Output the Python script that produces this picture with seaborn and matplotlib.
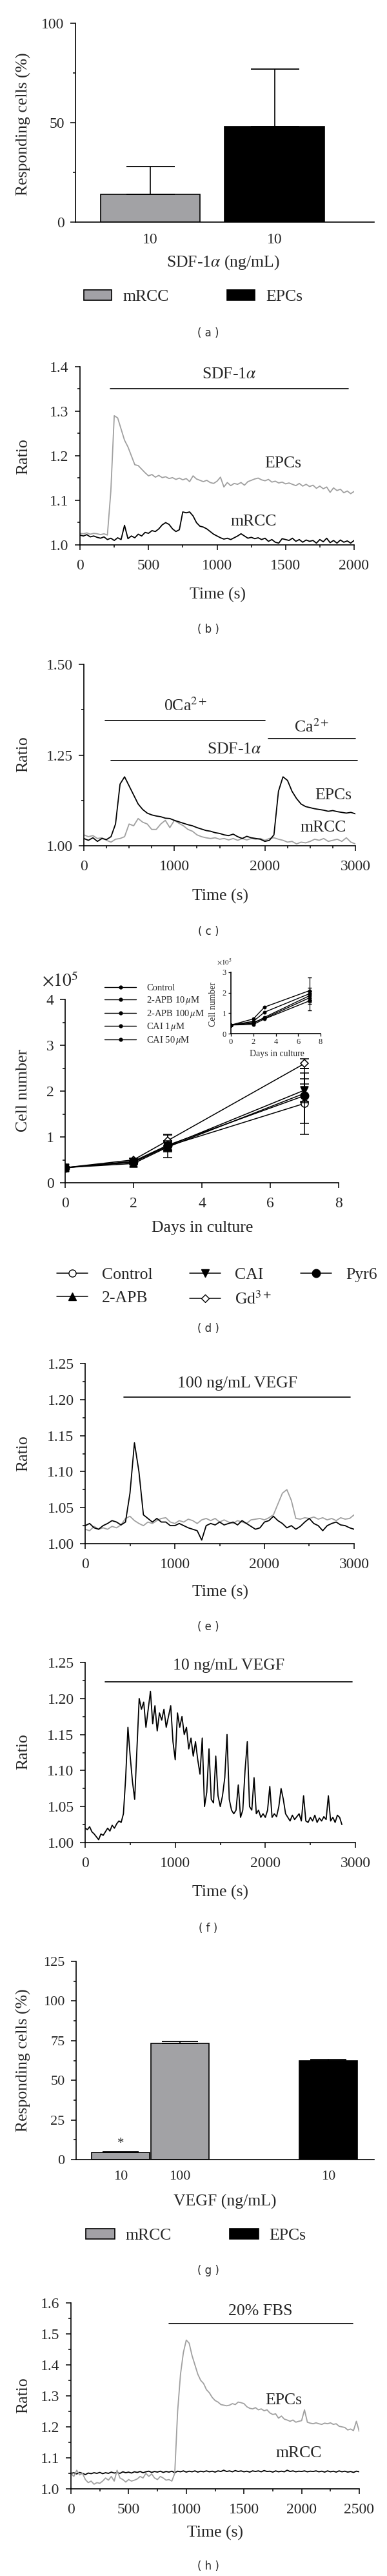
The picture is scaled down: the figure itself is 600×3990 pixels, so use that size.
import numpy as np
import matplotlib
matplotlib.use("Agg")
import matplotlib.pyplot as plt
import seaborn as sns
from matplotlib.lines import Line2D
from matplotlib.patches import Patch
from matplotlib.ticker import MultipleLocator, FormatStrFormatter

# ---------------- data ----------------
# (a) SDF-1a responding cells
sdf_groups = ["mRCC", "EPCs"]
sdf_resp = [14, 48]
sdf_err = [14, 29]

# (b) SDF-1a traces, sampled every 25 s
b_step = 25
b_epcs = [1.026, 1.025, 1.027, 1.024, 1.026, 1.025, 1.023, 1.025, 1.022, 1.12, 1.29, 1.285, 1.26, 1.235,
          1.22, 1.2, 1.18, 1.178, 1.17, 1.162, 1.155, 1.158, 1.152, 1.156, 1.151, 1.153, 1.149, 1.151,
          1.147, 1.15, 1.146, 1.149, 1.142, 1.155, 1.148, 1.145, 1.142, 1.145, 1.14, 1.138, 1.143, 1.152,
          1.13, 1.14, 1.133, 1.138, 1.136, 1.14, 1.134, 1.142, 1.145, 1.148, 1.15, 1.146, 1.144, 1.147,
          1.141, 1.143, 1.139, 1.141, 1.137, 1.139, 1.136, 1.133, 1.138, 1.132, 1.136, 1.131, 1.134,
          1.127, 1.132, 1.126, 1.13, 1.118, 1.128, 1.122, 1.125, 1.117, 1.121, 1.115, 1.12]
b_mrcc = [1.022, 1.02, 1.023, 1.018, 1.02, 1.017, 1.015, 1.018, 1.012, 1.015, 1.01, 1.016, 1.012, 1.044,
          1.014, 1.02, 1.016, 1.024, 1.02, 1.028, 1.026, 1.032, 1.03, 1.036, 1.045, 1.05, 1.046, 1.036,
          1.03, 1.034, 1.074, 1.072, 1.074, 1.065, 1.05, 1.042, 1.04, 1.036, 1.03, 1.024, 1.02, 1.016,
          1.013, 1.015, 1.012, 1.016, 1.02, 1.025, 1.02, 1.015, 1.017, 1.014, 1.016, 1.012, 1.015, 1.008,
          1.012, 1.006, 1.004, 1.014, 1.012, 1.01, 1.015, 1.008, 1.012, 1.006, 1.011, 1.008, 1.01, 1.004,
          1.012, 1.007, 1.015, 1.005, 1.01, 1.004, 1.011, 1.006, 1.009, 1.004, 1.01]
b_stim = [222, 1957]

# (c) 0Ca / Ca re-addition traces, every 50 s
c_step = 50
c_epcs = [1.02, 1.015, 1.022, 1.012, 1.02, 1.017, 1.025, 1.06, 1.17, 1.19, 1.165, 1.14, 1.115, 1.1,
          1.09, 1.085, 1.082, 1.08, 1.076, 1.075, 1.07, 1.066, 1.062, 1.058, 1.055, 1.05, 1.046, 1.042,
          1.04, 1.036, 1.034, 1.03, 1.028, 1.032, 1.025, 1.02, 1.026, 1.022, 1.02, 1.018, 1.012, 1.015,
          1.03, 1.15, 1.19, 1.18, 1.15, 1.13, 1.115, 1.108, 1.105, 1.102, 1.1, 1.098, 1.095, 1.097,
          1.094, 1.092, 1.09, 1.092, 1.088]
c_mrcc = [1.03, 1.025, 1.028, 1.02, 1.022, 1.015, 1.01, 1.018, 1.02, 1.025, 1.06, 1.055, 1.075, 1.065,
          1.06, 1.045, 1.045, 1.06, 1.07, 1.05, 1.07, 1.062, 1.055, 1.045, 1.04, 1.03, 1.025, 1.022,
          1.02, 1.022, 1.018, 1.02, 1.016, 1.02, 1.015, 1.02, 1.016, 1.02, 1.018, 1.02, 1.015, 1.02,
          1.022, 1.018, 1.015, 1.01, 1.012, 1.005, 1.01, 1.008, 1.012, 1.018, 1.015, 1.02, 1.012, 1.015,
          1.018, 1.012, 1.022, 1.01, 1.005]
c_zero_ca = [237, 2003]
c_ca = [2035, 3000]
c_sdf = [302, 3020]

# (d) proliferation (x10^5 cells)
days = [0, 2, 3, 7]
d_series = ["Control", "2-APB", "CAI", r"Gd$^{3+}$", "Pyr6"]
d_control = [0.33, 0.45, 0.80, 1.73]
d_apb = [0.33, 0.42, 0.78, 1.95]
d_cai = [0.33, 0.45, 0.80, 2.02]
d_gd = [0.33, 0.50, 0.92, 2.60]
d_pyr6 = [0.33, 0.47, 0.82, 1.90]
d_control_err = [0.02, 0.03, 0.25, 0.67]
d_apb_err = [0.02, 0.03, 0.1, 0.2]
d_cai_err = [0.02, 0.03, 0.1, 0.25]
d_gd_err = [0.02, 0.03, 0.12, 0.11]
d_pyr6_err = [0.02, 0.03, 0.1, 0.6]

# (d) inset
in_series = [r"Control", r"2-APB 10$\,\mu$M", r"2-APB 100$\,\mu$M", r"CAI 1$\,\mu$M", r"CAI 50$\,\mu$M"]
in_control = [0.42, 0.72, 1.30, 2.10]
in_apb10 = [0.42, 0.60, 1.05, 1.95]
in_apb100 = [0.42, 0.50, 0.80, 1.85]
in_cai1 = [0.42, 0.55, 0.75, 1.75]
in_cai50 = [0.42, 0.45, 0.72, 1.60]
in_err = [0.65, 0.3, 0.25, 0.2, 0.45]

# (e) 100 ng/mL VEGF, every 50 s
e_step = 50
e_black = [1.025, 1.028, 1.022, 1.02, 1.025, 1.028, 1.032, 1.03, 1.026, 1.03, 1.07, 1.14, 1.1, 1.04,
           1.035, 1.03, 1.035, 1.03, 1.03, 1.025, 1.025, 1.028, 1.025, 1.022, 1.02, 1.018, 1.005, 1.025,
           1.028, 1.026, 1.03, 1.026, 1.028, 1.03, 1.026, 1.032, 1.028, 1.024, 1.02, 1.022, 1.03, 1.032,
           1.038, 1.032, 1.028, 1.022, 1.025, 1.02, 1.024, 1.03, 1.035, 1.028, 1.025, 1.018, 1.025,
           1.028, 1.03, 1.026, 1.025, 1.022, 1.02]
e_gray = [1.02, 1.018, 1.024, 1.02, 1.022, 1.02, 1.024, 1.022, 1.026, 1.035, 1.038, 1.032, 1.028, 1.025,
          1.03, 1.028, 1.032, 1.035, 1.036, 1.03, 1.028, 1.032, 1.03, 1.034, 1.032, 1.028, 1.033, 1.035,
          1.032, 1.035, 1.03, 1.033, 1.03, 1.028, 1.032, 1.03, 1.028, 1.033, 1.034, 1.035, 1.033, 1.036,
          1.04, 1.055, 1.07, 1.075, 1.06, 1.035, 1.034, 1.036, 1.035, 1.037, 1.034, 1.036, 1.033, 1.035,
          1.032, 1.036, 1.034, 1.035, 1.04]
e_stim = [430, 2959]

# (f) 10 ng/mL VEGF, every 25 s
f_step = 25
f_trace = [1.02, 1.018, 1.022, 1.015, 1.012, 1.008, 1.004, 1.012, 1.01, 1.015, 1.02, 1.016, 1.024, 1.02,
           1.026, 1.03, 1.028, 1.04, 1.09, 1.16, 1.12, 1.085, 1.06, 1.13, 1.2, 1.185, 1.195, 1.16, 1.185,
           1.21, 1.165, 1.19, 1.155, 1.18, 1.17, 1.185, 1.16, 1.175, 1.19, 1.14, 1.115, 1.18, 1.16, 1.175,
           1.15, 1.16, 1.13, 1.145, 1.12, 1.14, 1.115, 1.095, 1.145, 1.05, 1.07, 1.13, 1.06, 1.055, 1.12,
           1.065, 1.05, 1.065, 1.09, 1.15, 1.06, 1.045, 1.04, 1.045, 1.08, 1.035, 1.045, 1.1, 1.14, 1.05,
           1.045, 1.09, 1.04, 1.045, 1.035, 1.04, 1.035, 1.045, 1.078, 1.035, 1.04, 1.036, 1.05, 1.075,
           1.06, 1.04, 1.035, 1.03, 1.038, 1.032, 1.036, 1.04, 1.03, 1.065, 1.03, 1.028, 1.035, 1.03,
           1.038, 1.028, 1.034, 1.03, 1.036, 1.032, 1.065, 1.03, 1.035, 1.028, 1.038, 1.035, 1.025]
f_stim = [222, 2967]

# (g) VEGF responding cells
vegf_pos = [0, 1, 3.5]
vegf_labels = ["10", "100", "10"]
vegf_cell = ["mRCC", "mRCC", "EPCs"]
vegf_resp = [4.5, 73.3, 62.5]
vegf_err = [0.2, 1.2, 0.7]

# (h) 20% FBS, every 25 s
h_step = 25
h_epcs = [1.05, 1.04, 1.06, 1.045, 1.05, 1.03, 1.02, 1.025, 1.015, 1.02, 1.018, 1.025, 1.035, 1.028,
          1.04, 1.025, 1.06, 1.035, 1.03, 1.022, 1.03, 1.025, 1.028, 1.032, 1.04, 1.035, 1.05, 1.04,
          1.048, 1.035, 1.03, 1.04, 1.035, 1.028, 1.03, 1.025, 1.05, 1.25, 1.37, 1.44, 1.48, 1.47, 1.43,
          1.4, 1.37, 1.35, 1.34, 1.32, 1.31, 1.295, 1.285, 1.28, 1.272, 1.27, 1.268, 1.27, 1.275, 1.272,
          1.28, 1.278, 1.275, 1.265, 1.26, 1.258, 1.262, 1.255, 1.258, 1.252, 1.255, 1.245, 1.24, 1.242,
          1.228, 1.235, 1.225, 1.222, 1.218, 1.222, 1.215, 1.218, 1.22, 1.255, 1.215, 1.212, 1.21, 1.213,
          1.21, 1.208, 1.212, 1.21, 1.213, 1.208, 1.21, 1.202, 1.2, 1.198, 1.19, 1.193, 1.188, 1.218, 1.185]
h_mrcc = [1.05, 1.052, 1.048, 1.053, 1.05, 1.046, 1.051, 1.049, 1.052, 1.05, 1.053, 1.049, 1.052, 1.05,
          1.054, 1.051, 1.053, 1.05, 1.055, 1.052, 1.054, 1.051, 1.055, 1.053, 1.056, 1.052, 1.055, 1.057,
          1.053, 1.056, 1.054, 1.057, 1.053, 1.056, 1.054, 1.057, 1.052, 1.057, 1.055, 1.058, 1.054,
          1.057, 1.055, 1.058, 1.054, 1.057, 1.055, 1.058, 1.055, 1.057, 1.054, 1.058, 1.056, 1.06, 1.056,
          1.058, 1.055, 1.059, 1.056, 1.058, 1.055, 1.057, 1.054, 1.058, 1.056, 1.058, 1.055, 1.059,
          1.056, 1.057, 1.054, 1.058, 1.055, 1.057, 1.055, 1.06, 1.056, 1.058, 1.055, 1.057, 1.056,
          1.058, 1.055, 1.057, 1.056, 1.058, 1.055, 1.057, 1.054, 1.058, 1.055, 1.057, 1.054, 1.058,
          1.055, 1.057, 1.054, 1.056, 1.053, 1.057, 1.055]
h_stim = [848, 2442]

# ---------------- style ----------------
sns.set_theme(style="ticks")
plt.rcParams['font.family'] = ['Liberation Serif', 'DejaVu Serif']
plt.rcParams['mathtext.fontset'] = 'stix'
plt.rcParams['axes.linewidth'] = 1.2
plt.rcParams['axes.edgecolor'] = 'black'

GRAY = "#a0a0a0"
BARGRAY = "#a2a1a6"
TICK = 17
LAB = 18.5
ANN = 18.5
W, H = 600, 3990
fig = plt.figure(figsize=(6, 39.9), dpi=100)


def box(l, t, r, b):
    return fig.add_axes([l / W, 1 - b / H, (r - l) / W, (b - t) / H])


def style(ax, xmaj=None, xmin=None, ymaj=None, ymin=None, size=TICK, xpad=10, ypad=7):
    if xmaj:
        ax.xaxis.set_major_locator(MultipleLocator(xmaj))
    if xmin:
        ax.xaxis.set_minor_locator(MultipleLocator(xmin))
    if ymaj:
        ax.yaxis.set_major_locator(MultipleLocator(ymaj))
    if ymin:
        ax.yaxis.set_minor_locator(MultipleLocator(ymin))
    ax.tick_params(which='major', direction='out', length=5.5, width=1.1, labelsize=size, color='black')
    ax.tick_params(which='minor', direction='out', length=3, width=1.1, color='black')
    ax.tick_params(axis='x', pad=xpad)
    ax.tick_params(axis='y', pad=ypad)
    sns.despine(ax=ax)


def labels(ax, xl, xpos, yl, ypos, size=LAB):
    ax.set_xlabel(xl, fontsize=size)
    ax.xaxis.set_label_coords(xpos[0] / W, 1 - xpos[1] / H, transform=fig.transFigure)
    ax.xaxis.label.set_va('center')
    ax.set_ylabel(yl, fontsize=size)
    ax.yaxis.set_label_coords(ypos[0] / W, 1 - ypos[1] / H, transform=fig.transFigure)
    ax.yaxis.label.set_va('center')


def panel(tag, y):
    fig.text(323 / W, 1 - y / H, "( %s )" % tag, family='DejaVu Sans', fontsize=12,
             ha='center', va='center')


def bar_legend(x, y, hl, tp, cs):
    handles = [Patch(facecolor=BARGRAY, edgecolor='black', linewidth=1.2),
               Patch(facecolor='black', edgecolor='black', linewidth=1.2)]
    fig.legend(handles, ["mRCC", "EPCs"], loc='center left', bbox_to_anchor=(x / W, 1 - y / H),
               ncol=2, frameon=False, fontsize=LAB, handlelength=hl, handleheight=0.6,
               handletextpad=tp, columnspacing=cs)


def trace(ax, step, vals, color):
    t = np.arange(len(vals)) * step
    sns.lineplot(x=t, y=vals, ax=ax, color=color, linewidth=1.3, errorbar=None)


def stim(ax, span, y, text, ty):
    ax.plot(span, [y, y], color='black', linewidth=1.2, clip_on=False)
    ax.text(sum(span) / 2, ty, text, ha='center', va='center', fontsize=ANN)


def note(ax, x, y, text):
    ax.text(x, y, text, ha='center', va='center', fontsize=ANN)


# ---------------- (a) ----------------
ax = box(117, 36, 580, 344)
sns.barplot(x=sdf_groups, y=sdf_resp, hue=sdf_groups, palette=[BARGRAY, 'black'], width=0.8,
            edgecolor='black', linewidth=1.2, legend=False, ax=ax)
ax.errorbar([0, 1], sdf_resp, yerr=[[0, 0], sdf_err], fmt='none', ecolor='black', elinewidth=1.2,
            capsize=27, capthick=1.3)
ax.set_xlim(-0.60, 1.80)
ax.set_ylim(0, 100)
ax.set_xticks([0, 1])
ax.set_xticklabels(["10", "10"])
style(ax, ymaj=50, ymin=25, xpad=12)
ax.tick_params(axis='x', length=0)
labels(ax, r"SDF-1$\alpha$ (ng/mL)", (346, 407), "Responding cells (%)", (36, 192))
bar_legend(107, 460, 1.68, 0.68, 3.5)
panel("a", 516)

# ---------------- (b) ----------------
ax = box(124, 568, 549, 844)
trace(ax, b_step, b_epcs, GRAY)
trace(ax, b_step, b_mrcc, 'black')
ax.set_xlim(0, 2000)
ax.set_ylim(1.0, 1.4)
style(ax, xmaj=500, xmin=250, ymaj=0.1, ymin=0.05)
ax.yaxis.set_major_formatter(FormatStrFormatter('%.1f'))
stim(ax, b_stim, 1.35, r"SDF-1$\alpha$", 1.382)
note(ax, 1481, 1.182, "EPCs")
note(ax, 1265, 1.052, "mRCC")
labels(ax, "Time (s)", (337, 921), "Ratio", (36, 707))
panel("b", 975)

# ---------------- (c) ----------------
ax = box(130, 1029, 551, 1310)
trace(ax, c_step, c_mrcc, GRAY)
trace(ax, c_step, c_epcs, 'black')
ax.set_xlim(0, 3000)
ax.set_ylim(1.0, 1.5)
style(ax, xmaj=1000, xmin=250, ymaj=0.25, ymin=0.125)
ax.yaxis.set_major_formatter(FormatStrFormatter('%.2f'))
stim(ax, c_zero_ca, 1.346, r"0Ca$^{2+}$", 1.386)
stim(ax, c_ca, 1.295, r"Ca$^{2+}$", 1.327)
stim(ax, c_sdf, 1.234, r"SDF-1$\alpha$", 1.266)
note(ax, 2755, 1.139, "EPCs")
note(ax, 2648, 1.049, "mRCC")
labels(ax, "Time (s)", (341, 1388), "Ratio", (36, 1168))
panel("c", 1443)

# ---------------- (d) main ----------------
ax = box(101, 1548, 525, 1832)
d_vals = [d_control, d_apb, d_cai, d_gd, d_pyr6]
d_errs = [d_control_err, d_apb_err, d_cai_err, d_gd_err, d_pyr6_err]
d_mark = [('o', 'white', 8), ('^', 'black', 8), ('v', 'black', 8), ('D', 'white', 6), ('o', 'black', 9)]
for vals, errs, (m, fc, ms) in zip(d_vals, d_errs, d_mark):
    ax.errorbar(days, vals, yerr=errs, fmt='none', ecolor='black', elinewidth=1.1, capsize=5, capthick=1.1)
    sns.lineplot(x=days, y=vals, ax=ax, color='black', linewidth=1.1, marker=m, markersize=ms,
                 markerfacecolor=fc, markeredgecolor='black', markeredgewidth=1.1, errorbar=None)
ax.set_xlim(0, 8)
ax.set_ylim(0, 4)
style(ax, xmaj=2, ymaj=1, ymin=0.5)
ax.text(93 / W, 1 - 1520 / H, r"$\times10^5$", transform=fig.transFigure, ha='center', va='center',
        fontsize=20)
labels(ax, "Days in culture", (314, 1902), "Cell number", (36, 1689))
handles = [Line2D([], [], color='black', lw=1.1, marker=m, markersize=ms, markerfacecolor=fc,
                  markeredgecolor='black') for (m, fc, ms) in d_mark]
# one legend per column so each column sits where it does in the figure
for idx, x0 in [([0, 1], 65), ([2, 3], 271), ([4], 443)]:
    fig.legend([handles[i] for i in idx], [d_series[i] for i in idx], loc='upper left',
               bbox_to_anchor=(x0 / W, 1 - 1940 / H), ncol=1, frameon=False, fontsize=LAB,
               handlelength=1.88, handletextpad=0.84, labelspacing=0.5)
panel("d", 2058)

# ---------------- (d) inset ----------------
ax = box(358, 1506, 497, 1601)
for vals, err in zip([in_control, in_apb10, in_apb100, in_cai1, in_cai50], in_err):
    ax.errorbar(days[-1], vals[-1], yerr=err, fmt='none', ecolor='black', elinewidth=0.9, capsize=2.5)
    sns.lineplot(x=days, y=vals, ax=ax, color='black', linewidth=1.0, marker='o', markersize=3.5,
                 markeredgecolor='black', errorbar=None)
ax.set_xlim(0, 8)
ax.set_ylim(0, 3)
style(ax, xmaj=2, ymaj=1, size=9, xpad=2, ypad=2)
ax.tick_params(which='major', length=3, width=0.9)
ax.set_xlabel("Days in culture", fontsize=10)
ax.xaxis.set_label_coords(429 / W, 1 - 1632 / H, transform=fig.transFigure)
ax.xaxis.label.set_va('center')
ax.set_ylabel("Cell number", fontsize=10)
ax.yaxis.set_label_coords(331 / W, 1 - 1556 / H, transform=fig.transFigure)
ax.yaxis.label.set_va('center')
ax.text(348 / W, 1 - 1490 / H, r"$\times10^5$", transform=fig.transFigure, ha='center', va='center',
        fontsize=8)
in_handles = [Line2D([], [], color='black', lw=1.0, marker='o', markersize=3.5) for _ in in_series]
fig.legend(in_handles, in_series, loc='upper left', bbox_to_anchor=(149 / W, 1 - 1511 / H), ncol=1,
           frameon=False, fontsize=10.5, handlelength=3.36, handletextpad=1.1, labelspacing=0.25)

# ---------------- (e) ----------------
ax = box(132, 2112, 549, 2391)
trace(ax, e_step, e_gray, GRAY)
trace(ax, e_step, e_black, 'black')
ax.set_xlim(0, 3000)
ax.set_ylim(1.0, 1.25)
style(ax, xmaj=1000, xmin=500, ymaj=0.05, ymin=0.025)
ax.yaxis.set_major_formatter(FormatStrFormatter('%.2f'))
stim(ax, e_stim, 1.2034, "100 ng/mL VEGF", 1.222)
labels(ax, "Time (s)", (341, 2466), "Ratio", (36, 2251))
panel("e", 2520)

# ---------------- (f) ----------------
ax = box(132, 2575, 551, 2854)
trace(ax, f_step, f_trace, 'black')
ax.set_xlim(0, 3000)
ax.set_ylim(1.0, 1.25)
style(ax, xmaj=1000, xmin=500, ymaj=0.05, ymin=0.025)
ax.yaxis.set_major_formatter(FormatStrFormatter('%.2f'))
stim(ax, f_stim, 1.223, "10 ng/mL VEGF", 1.2455)
labels(ax, "Time (s)", (342, 2931), "Ratio", (36, 2713))
panel("f", 2987)

# ---------------- (g) ----------------
ax = box(118, 3038, 580, 3345)
sns.barplot(x=vegf_pos, y=vegf_resp, hue=vegf_cell, palette={"mRCC": BARGRAY, "EPCs": 'black'},
            native_scale=True, dodge=False, width=0.98, edgecolor='black', linewidth=1.2,
            legend=False, ax=ax)
ax.errorbar(vegf_pos, vegf_resp, yerr=[[0, 0, 0], vegf_err], fmt='none', ecolor='black',
            elinewidth=1.2, capsize=20, capthick=1.3)
ax.text(vegf_pos[0], vegf_resp[0] + 1.5, "*", ha='center', va='bottom', fontsize=15)
ax.set_xlim(-0.75, 4.27)
ax.set_ylim(0, 125)
ax.set_xticks(vegf_pos)
ax.set_xticklabels(vegf_labels)
style(ax, ymaj=25, ymin=12.5, size=16, xpad=12)
ax.tick_params(axis='x', length=0)
labels(ax, "VEGF (ng/mL)", (349, 3410), "Responding cells (%)", (36, 3191))
bar_legend(110, 3463, 1.76, 0.64, 3.5)
panel("g", 3517)

# ---------------- (h) ----------------
ax = box(110, 3567, 557, 3855)
trace(ax, h_step, h_mrcc, 'black')
trace(ax, h_step, h_epcs, GRAY)
ax.set_xlim(0, 2500)
ax.set_ylim(1.0, 1.6)
style(ax, xmaj=500, xmin=250, ymaj=0.1, ymin=0.05)
ax.yaxis.set_major_formatter(FormatStrFormatter('%.1f'))
stim(ax, h_stim, 1.534, "20% FBS", 1.573)
note(ax, 1844, 1.285, "EPCs")
note(ax, 1973, 1.114, "mRCC")
labels(ax, "Time (s)", (333, 3923), "Ratio", (36, 3710))
panel("h", 3975)

fig.savefig("out.png", dpi=100)
